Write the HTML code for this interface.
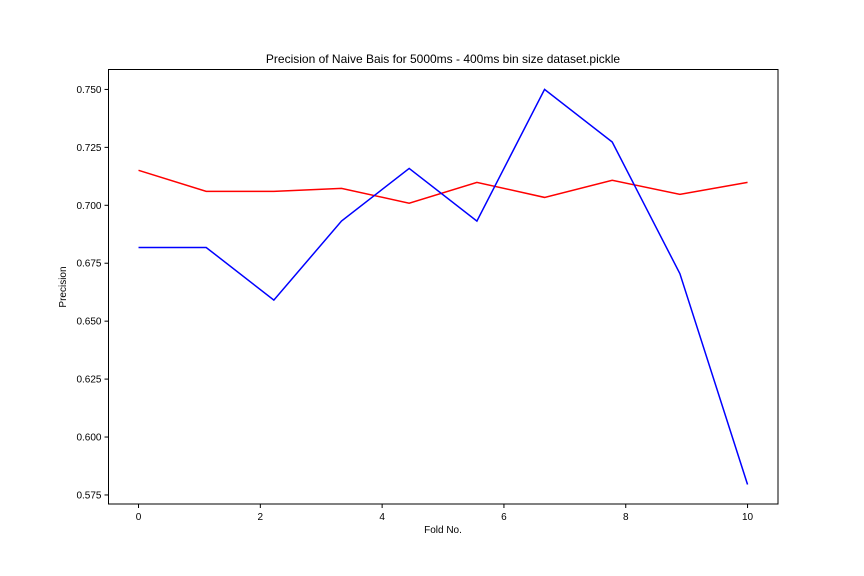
<!DOCTYPE html>
<html><head><meta charset="utf-8"><style>
body{margin:0;background:#fff}
svg{display:block;font-family:"Liberation Sans","DejaVu Sans",sans-serif}
</style></head><body>
<svg id="chart" width="864" height="576" viewBox="0 0 864 576">
<rect width="864" height="576" fill="#fff"/>
<text x="443" y="63" text-anchor="middle" font-size="12">Precision of Naive Bais for 5000ms - 400ms bin size dataset.pickle</text>
<g id="xticks"></g>
<g id="yticks"></g>
<g id="lines"></g>
<rect x="108.5" y="69.5" width="669.5" height="434.5" fill="none" stroke="#000" stroke-width="1"/>
<text x="443" y="533" text-anchor="middle" font-size="10">Fold No.</text>
<text x="66" y="287" text-anchor="middle" font-size="10" transform="rotate(-90 66 287)">Precision</text>
</svg>
<script>
const xValues=[0,1.111,2.222,3.333,4.444,5.556,6.667,7.778,8.889,10];
const blueSeries=[0.6818,0.6818,0.6591,0.6932,0.7159,0.6932,0.75,0.7273,0.6705,0.5795];
const redSeries=[0.7151,0.706,0.706,0.7073,0.7009,0.7099,0.7034,0.7108,0.7047,0.7099];
const xTickLabels=[0,2,4,6,8,10];
const yTickLabels=[0.575,0.6,0.625,0.65,0.675,0.7,0.725,0.75];
const NS="http://www.w3.org/2000/svg";
const L=108.5,R=778,T=69.5,B=504;
const xMin=-0.493,xMax=10.5,yMin=0.5711,yMax=0.7586;
const xs=v=>L+(v-xMin)/(xMax-xMin)*(R-L);
const ys=v=>B-(v-yMin)/(yMax-yMin)*(B-T);
function mk(t,a,p){const e=document.createElementNS(NS,t);for(const k in a)e.setAttribute(k,a[k]);p.appendChild(e);return e;}
const gx=document.getElementById('xticks');
xTickLabels.forEach(v=>{
 const g=mk('g',{},gx);
 
 
 mk('line',{x1:xs(v),x2:xs(v),y1:B,y2:B+4,stroke:'#000'},g);
 const t=mk('text',{x:xs(v),y:B+16,'text-anchor':'middle','font-size':10},g);t.textContent=v;
});
const gy=document.getElementById('yticks');
yTickLabels.forEach(v=>{
 const g=mk('g',{},gy);
 
 
 mk('line',{x1:L-4,x2:L,y1:ys(v),y2:ys(v),stroke:'#000'},g);
 const t=mk('text',{x:L-7,y:ys(v)+3.5,'text-anchor':'end','font-size':10},g);t.textContent=v.toFixed(3);
});
const gl=document.getElementById('lines');
[[redSeries,'#ff0000','red-series-line'],[blueSeries,'#0000ff','blue-series-line']].forEach(([s,c,n])=>{
 const p=mk('polyline',{points:s.map((v,i)=>xs(xValues[i])+','+ys(v)).join(' '),fill:'none',stroke:c,'stroke-width':1.5},gl);
 
 
});
</script>
</body></html>
